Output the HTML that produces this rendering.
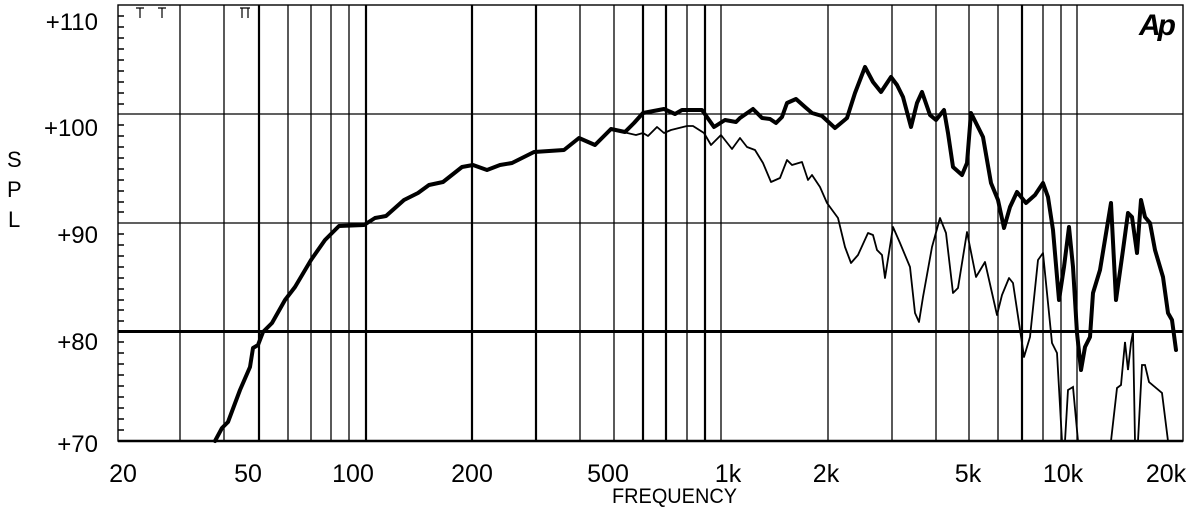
<!DOCTYPE html>
<html><head><meta charset="utf-8"><style>
html,body{margin:0;padding:0;background:#fff;}
svg{display:block;}
text{font-family:"Liberation Sans",sans-serif;fill:#000;}
</style></head><body>
<svg width="1200" height="527" viewBox="0 0 1200 527" xmlns="http://www.w3.org/2000/svg">
<rect width="1200" height="527" fill="#fff"/>
<g stroke="#000" stroke-width="1.3" fill="none">
<line x1="180" y1="5" x2="180" y2="441"/>
<line x1="224" y1="5" x2="224" y2="441"/>
<line x1="288" y1="5" x2="288" y2="441"/>
<line x1="311" y1="5" x2="311" y2="441"/>
<line x1="331" y1="5" x2="331" y2="441"/>
<line x1="349" y1="5" x2="349" y2="441"/>
<line x1="580" y1="5" x2="580" y2="441"/>
<line x1="614" y1="5" x2="614" y2="441"/>
<line x1="687" y1="5" x2="687" y2="441"/>
<line x1="721" y1="5" x2="721" y2="441"/>
<line x1="828" y1="5" x2="828" y2="441"/>
<line x1="892" y1="5" x2="892" y2="441"/>
<line x1="936" y1="5" x2="936" y2="441"/>
<line x1="969" y1="5" x2="969" y2="441"/>
<line x1="998" y1="5" x2="998" y2="441"/>
<line x1="1043" y1="5" x2="1043" y2="441"/>
<line x1="1061" y1="5" x2="1061" y2="441"/>
<line x1="1077" y1="5" x2="1077" y2="441"/>
<line x1="118" y1="114" x2="1183" y2="114"/>
<line x1="118" y1="223" x2="1183" y2="223"/>
</g>
<g stroke="#000" stroke-width="2.2" fill="none">
<line x1="259" y1="5" x2="259" y2="441"/>
<line x1="366" y1="5" x2="366" y2="441"/>
<line x1="472" y1="5" x2="472" y2="441"/>
<line x1="536" y1="5" x2="536" y2="441"/>
<line x1="643" y1="5" x2="643" y2="441"/>
<line x1="666" y1="5" x2="666" y2="441"/>
<line x1="705" y1="5" x2="705" y2="441"/>
<line x1="1022" y1="5" x2="1022" y2="441"/>
<line x1="118" y1="331.5" x2="1183" y2="331.5" stroke-width="3"/>
<line x1="118" y1="441" x2="1183" y2="441" stroke-width="2.5"/>
</g>
<rect x="118" y="5" width="1065" height="436" fill="none" stroke="#000" stroke-width="1.4"/>
<g stroke="#000" stroke-width="1.5">
<path d="M118 16h6M118 27h6M118 38h6M118 49h6M118 60h6M118 71h6M118 82h6M118 93h6M118 104h6M118 125h6M118 136h6M118 147h6M118 158h6M118 169h6M118 180h6M118 191h6M118 202h6M118 212h6M118 234h6M118 245h6M118 256h6M118 267h6M118 278h6M118 289h6M118 300h6M118 310h6M118 321h6M118 342h6M118 353h6M118 364h6M118 375h6M118 386h6M118 397h6M118 408h6M118 419h6M118 430h6"/>
<path d="M136 8h8M140 8v10M158 8h8M162 8v10M240 8h10M242 8v10M248 8v10" stroke-width="1.2"/>
</g>
<polyline fill="none" stroke="#000" stroke-width="1.8" stroke-linejoin="round" points="623,132 636,135 643,133 648,136 657,127 664,133 671,130 687,126 693,126 704,133 711,145 721,135 732,149 740,138 747,147 755,150 763,163 771,182 780,178 787,160 792,165 802,162 808,180 812,175 820,187 827,203 838,218 845,247 851,263 858,255 868,233 873,235 877,250 882,255 885,278 893,227 900,243 910,267 915,313 919,322 923,297 932,247 940,218 946,233 953,293 958,288 967,232 972,257 976,277 985,262 997,315 1002,295 1009,278 1013,283 1022,343 1024,357 1030,337 1038,260 1043,253 1052,343 1057,353 1062,441"/>
<polyline fill="none" stroke="#000" stroke-width="1.8" points="1065,441 1068,390 1073,387 1078,441"/>
<polyline fill="none" stroke="#000" stroke-width="1.8" points="1111,441 1117,388 1121,385 1125,342 1128,370 1131,343 1133,332 1135,441"/>
<polyline fill="none" stroke="#000" stroke-width="1.8" points="1138,441 1142,365 1145,365 1149,382 1162,393 1168,441"/>
<polyline fill="none" stroke="#000" stroke-width="4" stroke-linejoin="round" stroke-linecap="round" points="215,441 222,428 228,422 240,390 250,367 253,348 258,345 263,332 272,323 285,300 295,287 311,260 325,240 339,226 364,225 375,218 386,216 404,200 418,193 429,185 443,182 462,167 473,165 487,170 500,165 512,163 534,152 564,150 579,138 595,145 611,129 625,132 634,123 643,113 664,109 675,114 682,110 702,110 714,127 725,120 736,122 740,118 753,109 762,118 770,119 776,123 782,117 787,103 796,99 805,107 812,113 822,116 835,128 847,118 855,93 865,67 873,82 881,92 891,77 897,85 903,97 911,127 917,103 922,92 930,115 936,120 944,110 948,133 953,167 962,175 967,163 971,113 977,125 983,137 991,183 998,200 1004,228 1010,207 1017,192 1026,203 1035,195 1043,183 1048,197 1053,230 1059,300 1064,267 1069,227 1073,267 1077,333 1081,370 1085,347 1090,337 1093,293 1100,270 1111,203 1116,300 1123,250 1128,213 1132,217 1137,253 1141,200 1145,217 1150,223 1155,250 1163,277 1168,313 1172,320 1176,350"/>
<g font-size="24" text-anchor="end">
<text x="98" y="30">+110</text>
<text x="98" y="136">+100</text>
<text x="98" y="243">+90</text>
<text x="98" y="350">+80</text>
<text x="98" y="452">+70</text>
</g>
<g font-size="22">
<text x="7" y="167">S</text>
<text x="7" y="197">P</text>
<text x="8" y="227">L</text>
</g>
<g font-size="25" text-anchor="middle">
<text x="123" y="482">20</text>
<text x="248" y="482">50</text>
<text x="353" y="482">100</text>
<text x="472" y="482">200</text>
<text x="608" y="482">500</text>
<text x="728" y="482">1k</text>
<text x="826" y="482">2k</text>
<text x="968" y="482">5k</text>
<text x="1063" y="482">10k</text>
<text x="1166" y="482">20k</text>
</g>
<text x="612" y="503" font-size="21" textLength="125" lengthAdjust="spacingAndGlyphs">FREQUENCY</text>
<text x="1139" y="35" font-size="30" font-weight="bold" font-style="italic" letter-spacing="-3">Ap</text>
</svg>
</body></html>
